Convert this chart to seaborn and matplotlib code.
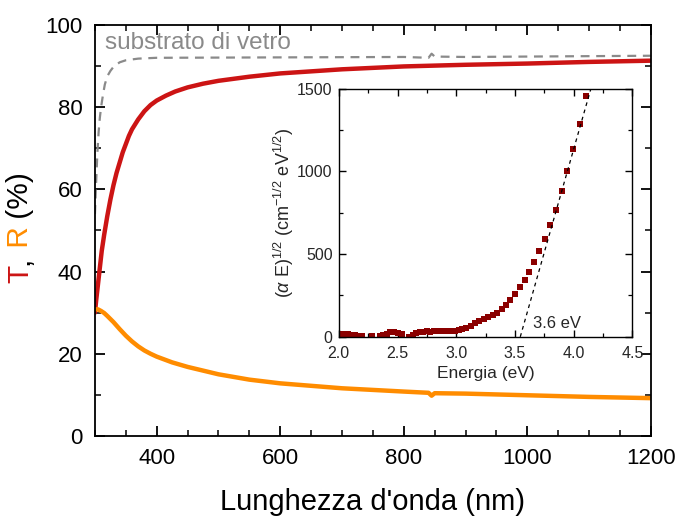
import matplotlib
matplotlib.use("Agg")
import matplotlib.pyplot as plt
from matplotlib.ticker import MultipleLocator, FormatStrFormatter
import seaborn as sns
import pandas as pd

# transmittance of the film (T), %
wl_T = [300, 302, 305, 308, 311, 315, 320, 325, 330, 335, 340, 345, 350, 355, 360,
        370, 380, 390, 400, 415, 430, 450, 475, 500, 550, 600, 700, 800, 900, 1000,
        1100, 1200]
T = [30, 33, 37, 41, 45, 49, 53.5, 57.5, 61, 64, 66.5, 69, 71, 73, 74.6,
     77, 79, 80.5, 81.6, 82.8, 83.8, 84.8, 85.7, 86.4, 87.4, 88.2, 89.2, 89.9, 90.3, 90.6,
     91.0, 91.3]

# reflectance of the film (R), %
wl_R = [300, 305, 310, 315, 320, 330, 340, 350, 360, 370, 380, 390, 400, 425, 450,
        500, 550, 600, 700, 800, 840, 845, 850, 900, 1000, 1100, 1200]
R = [30.8, 30.8, 30.4, 29.9, 29.2, 27.7, 26.0, 24.4, 23.0, 21.8, 20.8, 20.0, 19.3, 17.9, 16.8,
     15.0, 13.7, 12.8, 11.6, 10.8, 10.5, 9.8, 10.4, 10.3, 9.9, 9.5, 9.2]

# bare glass substrate
wl_S = [300, 302, 304, 306, 308, 310, 313, 316, 320, 325, 330, 340, 350, 370, 400,
        600, 800, 840, 845, 850, 900, 1000, 1200]
S = [54, 62, 69, 74, 77.5, 80, 83, 85.5, 87.5, 88.8, 89.8, 90.9, 91.4, 91.8, 92.0,
     92.1, 92.2, 92.0, 93.0, 92.3, 92.2, 92.3, 92.5]

# Tauc plot (inset)
E = [2.00, 2.02, 2.04, 2.06, 2.08, 2.11, 2.14, 2.17, 2.20, 2.28, 2.35, 2.38, 2.41,
     2.44, 2.47, 2.50, 2.54, 2.60, 2.63, 2.66, 2.69, 2.72, 2.75, 2.78, 2.81, 2.84,
     2.87, 2.90, 2.93, 2.96, 2.99, 3.02, 3.046, 3.083, 3.122, 3.159, 3.196, 3.236,
     3.273, 3.310, 3.346, 3.386, 3.423, 3.460, 3.499, 3.539, 3.582, 3.621, 3.664,
     3.706, 3.752, 3.800, 3.848, 3.896, 3.947, 3.998, 4.052, 4.103]
aE = [20, 20, 18, 17, 15, 12, 10, 8, 6, 6, 5, 12, 20,
      28, 32, 22, 15, 2, 10, 22, 30, 32, 33, 32, 33, 34,
      33, 34, 34, 35, 36, 40, 46, 55, 67, 81, 97, 109,
      121, 131, 147, 166, 190, 222, 260, 299, 343, 394, 452,
      519, 594, 676, 769, 880, 1001, 1135, 1286, 1458]
fit_E = [3.545, 4.15]
fit_aE = [0, 1510]

red = "#cc1414"
orange = "#ff8c00"
gray = "#8a8a8a"
dark = "#8b0000"

sns.set_theme(style="ticks")
plt.rcParams["font.family"] = ["Liberation Sans", "DejaVu Sans"]
plt.rcParams["mathtext.fontset"] = "custom"
plt.rcParams["mathtext.rm"] = "Liberation Sans"
plt.rcParams["mathtext.it"] = "Liberation Sans:italic"

fig = plt.figure(figsize=(6.83, 5.19), dpi=100)
ax = fig.add_axes([0.139, 0.160, 0.814, 0.792])

sns.lineplot(x=wl_S, y=S, ax=ax, color=gray, lw=1.6, linestyle=(0, (4, 3)))
sns.lineplot(x=wl_T, y=T, ax=ax, color=red, lw=3.2)
sns.lineplot(x=wl_R, y=R, ax=ax, color=orange, lw=3.2)

ax.set_xlim(300, 1200)
ax.set_ylim(0, 100)
ax.xaxis.set_major_locator(MultipleLocator(200))
ax.xaxis.set_minor_locator(MultipleLocator(50))
ax.yaxis.set_major_locator(MultipleLocator(20))
ax.yaxis.set_minor_locator(MultipleLocator(10))
for s in ax.spines.values():
    s.set_linewidth(1.3)
    s.set_color("black")
ax.tick_params(which="both", direction="in", top=True, right=True,
               bottom=True, left=True, color="black", labelcolor="black")
ax.tick_params(which="major", length=7, width=1.3, labelsize=16, pad=9)
ax.tick_params(which="minor", length=4, width=1.1)
ax.set_xlabel("Lunghezza d'onda (nm)", fontsize=21, labelpad=13, color="black")
ax.set_ylabel("")
ax.text(316, 95.5, "substrato di vetro", color=gray, fontsize=17.5, va="center")

# multicoloured y label
t1 = fig.text(0.03, 0.455, "T", color=red, fontsize=21.5, rotation=90,
              ha="center", va="bottom")
t2 = ax.annotate(",", xy=(0.5, 1), xycoords=t1, color="black", fontsize=21.5,
                 rotation=90, ha="center", va="bottom")
t3 = ax.annotate(" R", xy=(0.5, 1), xycoords=t2, color=orange, fontsize=21.5,
                 rotation=90, ha="center", va="bottom")
ax.annotate(" (%)", xy=(0.5, 1), xycoords=t3, color="black", fontsize=21.5,
            rotation=90, ha="center", va="bottom")

# inset: Tauc plot
ins = fig.add_axes([0.496, 0.351, 0.430, 0.478])
tauc = pd.DataFrame({"E": E, "aE": aE})
sns.scatterplot(data=tauc, x="E", y="aE", ax=ins, marker="s", s=20, color=dark,
                edgecolor=dark, linewidth=0)
sns.lineplot(x=fit_E, y=fit_aE, ax=ins, color="black", lw=0.9,
             linestyle=(0, (3, 3)))
ins.text(3.65, 80, "3.6 eV", fontsize=12, va="center")
ins.set_xlim(2.0, 4.5)
ins.set_ylim(0, 1500)
ins.xaxis.set_major_locator(MultipleLocator(0.5))
ins.xaxis.set_minor_locator(MultipleLocator(0.25))
ins.xaxis.set_major_formatter(FormatStrFormatter("%.1f"))
ins.yaxis.set_major_locator(MultipleLocator(500))
ins.yaxis.set_minor_locator(MultipleLocator(250))
for s in ins.spines.values():
    s.set_linewidth(1.0)
    s.set_color("black")
ins.tick_params(which="both", direction="in", top=True, right=True,
                bottom=True, left=True, color="black")
ins.tick_params(which="major", length=5, width=1.0, labelsize=11.5)
ins.tick_params(axis="x", which="major", pad=6.5)
ins.tick_params(axis="y", which="major", pad=4.5)
ins.tick_params(which="minor", length=3, width=0.9)
ins.set_xlabel("Energia (eV)", fontsize=12.5, labelpad=4)
ins.set_ylabel(r"($\alpha$ E)$^{1/2}$ (cm$^{-1/2}$ eV$^{1/2}$)", fontsize=13,
               labelpad=1)

fig.savefig("out.png", dpi=100)
